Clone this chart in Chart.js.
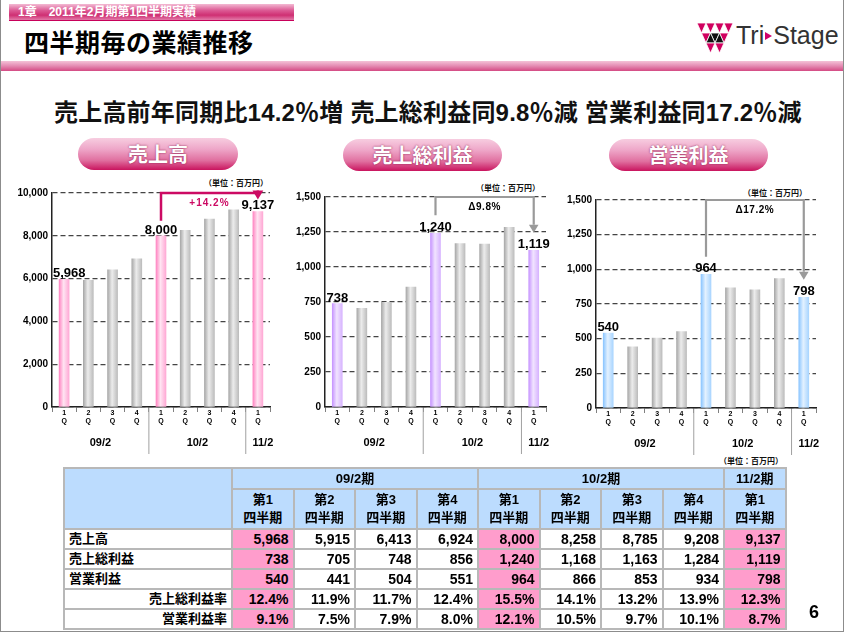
<!DOCTYPE html>
<html>
<head>
<meta charset="utf-8">
<script src="https://cdn.jsdelivr.net/npm/chart.js@4/dist/chart.umd.min.js"></script>
<style>
  body { margin: 0; background: #fff; }
  #slide { position: relative; width: 844px; height: 632px; border: 1px solid #8c8c8c; border-top: 0; box-sizing: border-box; overflow: hidden;
    font-family: 'Liberation Sans', Arial, 'Noto Sans CJK JP', sans-serif; }
  .abs { position: absolute; white-space: nowrap; }
  #chapter { left: 8px; top: 4px; width: 285px; height: 17px; background: linear-gradient(#f3b9d3, #dc5a94 40%, #cf2f73 70%, #e27aa8); color: #fff; font-weight: bold; font-size: 12px; line-height: 17px; padding-left: 9px; box-sizing: border-box; border-bottom: 1px solid #c8005a; }
  #title { left: 23px; top: 23px; font-size: 25px; font-weight: bold; letter-spacing: 0.5px; color: #000; }
  #band { left: 0; top: 61px; width: 844px; height: 10px; background: linear-gradient(#f4c2d8, #e48ab2 50%, #d44a84); }
  #brand { left: 735px; top: 21px; font-size: 25px; color: #333; font-family: 'Liberation Sans', Arial, sans-serif; }
  #brand i { display: inline-block; width: 0; height: 0; border-left: 7px solid #d0006a; border-top: 4px solid transparent; border-bottom: 4px solid transparent; vertical-align: middle; margin: 0 1px 2px 1px; }
  #subtitle { left: 53px; top: 93px; font-size: 24px; letter-spacing: 0.2px; font-weight: bold; color: #111; }
  .pill { height: 32px; border-radius: 16px; background: linear-gradient(#f7cde0, #eea6c8 35%, #e06f9f 70%, #c9145e); color: #fff; font-size: 20px; font-weight: bold; text-align: center; line-height: 31px; text-shadow: 0 0 2px #8a1a4a; font-family: 'Noto Sans CJK JP', sans-serif; }
  .unit { font-size: 8px; font-weight: bold; color: #111; font-family: 'Noto Sans CJK JP', sans-serif; }
  canvas { position: absolute; }
  #tbl { position: absolute; left: 62px; top: 467px; border-collapse: collapse; table-layout: fixed; width: 722px; font-weight: bold; color: #000; }
  #tbl td, #tbl th { border: 2px solid #b8b8b8; padding: 0 4px; overflow: hidden; box-sizing: border-box; }
  #tbl th { background: #bcdcfe; font-size: 13px; text-align: center; font-weight: bold; }
  #tbl tr.h1 th { height: 21px; line-height: 17px; }
  #tbl tr.h2 th { height: 40px; line-height: 18px; }
  #tbl td { height: 20px; line-height: 16px; font-size: 14px; text-align: right; background: #fff; }
  #tbl td.lab { text-align: left; font-size: 13px; }
  #tbl td.labr { text-align: right; font-size: 13px; }
  #tbl td.hi { background: #ff9dcc; }
  #page { left: 808px; top: 602px; font-size: 18px; font-weight: bold; }
</style>
</head>
<body>
<div id="slide">
  <div class="abs" id="chapter">1章　2011年2月期第1四半期実績</div>
  <div class="abs" id="title">四半期毎の業績推移</div>
  <svg class="abs" style="left:696px;top:23px" width="36" height="31" viewBox="0 0 36 31">
    <g stroke="#fff" stroke-width="0.8">
      <polygon points="0,0 9,0 4.5,10" fill="#d0005f"/>
      <polygon points="9,0 18,0 13.5,10" fill="#d0005f"/>
      <polygon points="18,0 27,0 22.5,10" fill="#d0005f"/>
      <polygon points="27,0 36,0 31.5,10" fill="#d0005f"/>
      <polygon points="4.5,10 13.5,10 9,20" fill="#d0005f"/>
      <polygon points="13.5,10 22.5,10 18,20" fill="#111"/>
      <polygon points="22.5,10 31.5,10 27,20" fill="#d0005f"/>
      <polygon points="13.5,10 9,20 18,20" fill="#111"/>
      <polygon points="22.5,10 18,20 27,20" fill="#111"/>
      <polygon points="9,20 18,20 13.5,30" fill="#d0005f"/>
      <polygon points="18,20 27,20 22.5,30" fill="#d0005f"/>
    </g>
  </svg>
  <div class="abs" id="brand">Tri<i></i>Stage</div>
  <div class="abs" id="band"></div>
  <div class="abs" id="subtitle">売上高前年同期比14.2％増 売上総利益同9.8％減 営業利益同17.2％減</div>

  <div class="abs pill" style="left:77px;top:138px;width:160px">売上高</div>
  <div class="abs pill" style="left:342px;top:139px;width:159px">売上総利益</div>
  <div class="abs pill" style="left:608px;top:139px;width:159px">営業利益</div>

  <div class="abs unit" style="left:203px;top:177px">（単位：百万円）</div>
  <div class="abs unit" style="left:475px;top:182px">（単位：百万円）</div>
  <div class="abs unit" style="left:742px;top:187px">（単位：百万円）</div>
  <div class="abs unit" style="left:718px;top:455px">（単位：百万円）</div>

  <canvas id="salesChart" width="290" height="285" style="left:0;top:175px"></canvas>
  <canvas id="grossChart" width="280" height="285" style="left:285px;top:175px"></canvas>
  <canvas id="opChart" width="283" height="285" style="left:560px;top:175px"></canvas>

  <table id="tbl"></table>
  <div class="abs" id="page">6</div>
</div>

<script>
// 四半期データ（単位：百万円）
const quarterLabels = ['1', '2', '3', '4', '1', '2', '3', '4', '1'];
const periodLabels = ['09/2', '10/2', '11/2'];
const periodSizes = [4, 4, 1];

const sales = [5968, 5915, 6413, 6924, 8000, 8258, 8785, 9208, 9137];
const grossProfit = [738, 705, 748, 856, 1240, 1168, 1163, 1284, 1119];
const operatingProfit = [540, 441, 504, 551, 964, 866, 853, 934, 798];
const grossMargin = [12.4, 11.9, 11.7, 12.4, 15.5, 14.1, 13.2, 13.9, 12.3];
const operatingMargin = [9.1, 7.5, 7.9, 8.0, 12.1, 10.5, 9.7, 10.1, 8.7];

const salesTicks = [0, 2000, 4000, 6000, 8000, 10000];
const profitTicks = [0, 250, 500, 750, 1000, 1250, 1500];
const changeLabels = ['+14.2%', 'Δ9.8%', 'Δ17.2%'];

const isFirstQ = i => quarterLabels[i] === '1';
const fmt = v => v.toLocaleString('en-US');

// 棒のグラデーション
function barFill(hi, lo) {
    return c => {
        const t = isFirstQ(c.dataIndex) ? hi : lo;
        const sx = c.chart.scales.x;
        if (c.type !== 'data' || !sx) return t[0];
        const x = sx.getPixelForValue(c.dataIndex);
        if (!isFinite(x)) return t[0];
        const g = c.chart.ctx.createLinearGradient(x - 5, 0, x + 5, 0);
        g.addColorStop(0, t[0]);
        g.addColorStop(0.45, t[1]);
        g.addColorStop(1, t[2]);
        return g;
    };
}
const grayBar = ['#a9a9a9', '#ececec', '#bdbdbd'];

function decorPlugin(cfg) {
    return {
        id: 'decor',
        afterDatasetsDraw(chart) {
            const { ctx, chartArea, scales: { x, y } } = chart;
            const values = chart.data.datasets[0].data;
            ctx.save();
            // 数値ラベル
            ctx.font = 'bold 13px "Liberation Sans", Arial, sans-serif';
            ctx.fillStyle = '#000';
            ctx.textAlign = 'center';
            ctx.textBaseline = 'alphabetic';
            values.forEach((v, i) => {
                if (!isFirstQ(i)) return;
                const txt = fmt(v);
                const w = ctx.measureText(txt).width;
                const cx = Math.max(x.getPixelForValue(i), chartArea.left + w / 2 + 1);
                ctx.fillText(txt, cx, y.getPixelForValue(v) - 2);
            });
            // 矢印
            const a = cfg.arrow;
            const x1 = x.getPixelForValue(a.from), x2 = x.getPixelForValue(a.to);
            const yTop = y.getPixelForValue(a.top);
            const yTip = y.getPixelForValue(a.end);
            ctx.strokeStyle = a.color;
            ctx.fillStyle = a.color;
            ctx.lineWidth = a.width;
            ctx.beginPath();
            ctx.moveTo(x1, y.getPixelForValue(a.start));
            ctx.lineTo(x1, yTop);
            ctx.lineTo(x2, yTop);
            ctx.lineTo(x2, yTip - a.head);
            ctx.stroke();
            ctx.beginPath();
            ctx.moveTo(x2 - a.head * 0.6, yTip - a.head);
            ctx.lineTo(x2 + a.head * 0.6, yTip - a.head);
            ctx.lineTo(x2, yTip);
            ctx.closePath();
            ctx.fill();
            ctx.font = 'bold 10px "Liberation Sans", Arial, sans-serif';
            ctx.fillStyle = a.labelColor;
            ctx.textBaseline = 'middle';
            if ('letterSpacing' in ctx) ctx.letterSpacing = a.spacing;
            ctx.fillText(a.label, (x1 + x2) / 2, yTop + 10);
            if ('letterSpacing' in ctx) ctx.letterSpacing = '0px';
            // 期の区切りと期ラベル
            ctx.strokeStyle = '#a0a0a0';
            ctx.lineWidth = 1;
            ctx.fillStyle = '#000';
            ctx.font = 'bold 11px "Liberation Sans", Arial, sans-serif';
            let start = 0;
            periodLabels.forEach((p, k) => {
                const end = start + periodSizes[k] - 1;
                let cx = (x.getPixelForValue(start) + x.getPixelForValue(end)) / 2;
                if (periodSizes[k] === 1) cx += 5;
                ctx.fillText(p, cx, chartArea.bottom + 36);
                if (k < periodLabels.length - 1) {
                    const sx = (x.getPixelForValue(end) + x.getPixelForValue(end + 1)) / 2;
                    ctx.beginPath();
                    ctx.moveTo(sx, chartArea.bottom + 1);
                    ctx.lineTo(sx, chartArea.bottom + 47);
                    ctx.stroke();
                }
                start = end + 1;
            });
            ctx.restore();
        }
    };
}

function buildChart(id, values, tickList, hiColors, cfg) {
    return new Chart(document.getElementById(id), {
        type: 'bar',
        data: {
            labels: quarterLabels.map(q => [q, 'Q']),
            datasets: [{ data: values, backgroundColor: barFill(hiColors, grayBar), borderWidth: 0, barThickness: 10 }]
        },
        options: {
            responsive: false,
            animation: false,
            devicePixelRatio: 1,
            layout: { padding: { top: cfg.padTop, right: cfg.padRight, left: 0, bottom: 0 } },
            plugins: { legend: { display: false }, tooltip: { enabled: false } },
            scales: {
                x: {
                    grid: { display: true, drawOnChartArea: false, drawTicks: true, tickLength: 5, color: '#808080', offset: true },
                    border: { color: '#222', width: 1.5 },
                    ticks: { font: { size: 7, weight: 'bold', lineHeight: 1.15 }, color: '#000', padding: -3, maxRotation: 0, autoSkip: false },
                    afterFit: s => { s.height = cfg.xHeight; }
                },
                y: {
                    min: 0,
                    max: tickList[tickList.length - 1],
                    ticks: { stepSize: tickList[1] - tickList[0], callback: v => fmt(v), font: { size: 10, weight: 'bold' }, color: '#000', padding: 4 },
                    grid: { color: '#444', lineWidth: 1.3, drawTicks: false },
                    border: { color: '#222', width: 1.5, dash: [5, 3] },
                    afterFit: s => { s.width = cfg.yWidth; }
                }
            }
        },
        plugins: [decorPlugin(cfg)]
    });
}

buildChart('salesChart', sales, salesTicks, ['#ff86c2', '#ffe4f2', '#ffa9d5'], {
    yWidth: 51, padRight: 21, padTop: 18, xHeight: 53,
    arrow: { from: 4, to: 8, start: 8700, top: 10000, end: 9700, head: 9, width: 2.5, color: '#cc0a63', labelColor: '#cc0a63', label: changeLabels[0], spacing: '1px' }
});
buildChart('grossChart', grossProfit, profitTicks, ['#c796ff', '#f1e4ff', '#d7b4ff'], {
    yWidth: 39, padRight: 20, padTop: 22, xHeight: 53,
    arrow: { from: 4, to: 8, start: 1370, top: 1500, end: 1245, head: 8, width: 2.2, color: '#9a9a9a', labelColor: '#000', label: changeLabels[1], spacing: '0.5px' }
});
buildChart('opChart', operatingProfit, profitTicks, ['#8cc6ff', '#e3f1ff', '#a9d5ff'], {
    yWidth: 35, padRight: 28, padTop: 25, xHeight: 52,
    arrow: { from: 4, to: 8, start: 1090, top: 1500, end: 925, head: 8, width: 2.2, color: '#9a9a9a', labelColor: '#000', label: changeLabels[2], spacing: '0.5px' }
});

// 表
const tableRows = [
    { label: '売上高', values: sales, f: fmt, cls: 'lab' },
    { label: '売上総利益', values: grossProfit, f: fmt, cls: 'lab' },
    { label: '営業利益', values: operatingProfit, f: fmt, cls: 'lab' },
    { label: '売上総利益率', values: grossMargin, f: v => v.toFixed(1) + '%', cls: 'labr' },
    { label: '営業利益率', values: operatingMargin, f: v => v.toFixed(1) + '%', cls: 'labr' }
];
let html = '<colgroup><col style="width:168px">' + quarterLabels.map(() => '<col style="width:61.5px">').join('') + '</colgroup>';
html += '<tr class="h1"><th rowspan="2"></th>' + periodLabels.map((p, k) => `<th colspan="${periodSizes[k]}">${p}期</th>`).join('') + '</tr>';
html += '<tr class="h2">' + quarterLabels.map(q => `<th>第${q}<br>四半期</th>`).join('') + '</tr>';
tableRows.forEach(r => {
    html += `<tr><td class="${r.cls}">${r.label}</td>` + r.values.map((v, i) => `<td class="${isFirstQ(i) ? 'hi' : ''}">${r.f(v)}</td>`).join('') + '</tr>';
});
document.getElementById('tbl').innerHTML = html;
</script>
</body>
</html>
